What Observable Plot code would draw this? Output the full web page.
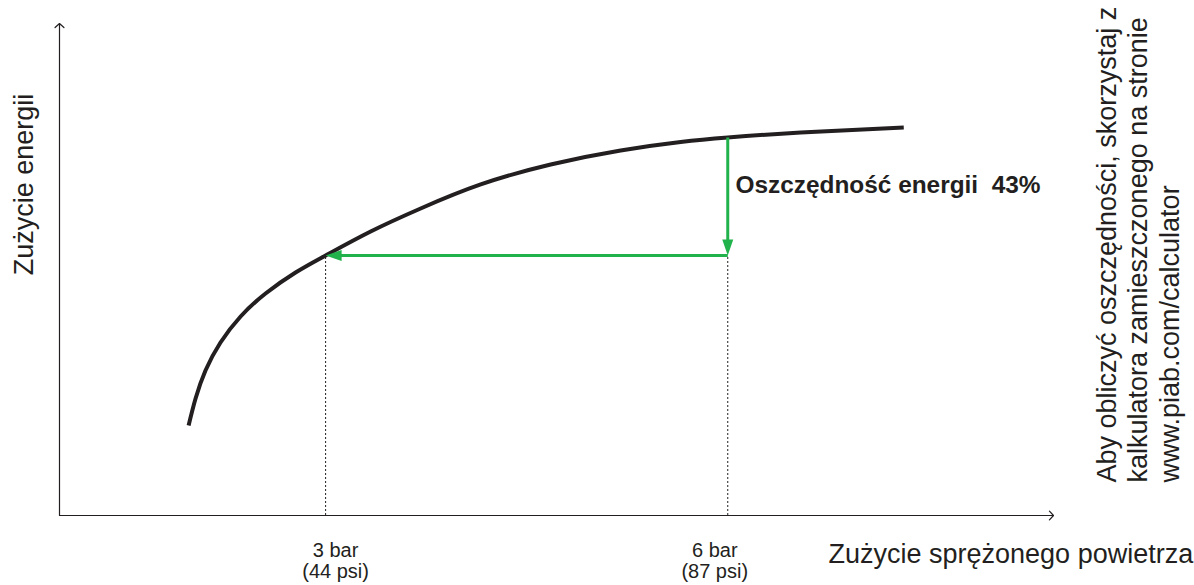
<!DOCTYPE html>
<html>
<head>
<meta charset="utf-8">
<script src="https://cdn.jsdelivr.net/npm/d3@7"></script>
<script src="https://cdn.jsdelivr.net/npm/@observablehq/plot@0.6"></script>
<style>
  html, body { margin: 0; padding: 0; background: #fff; }
</style>
</head>
<body>
<div id="chart"></div>
<script>
// ---- data ----
const pressureDomain = [1.015, 8.43];          // bar, visible x extent
const energyDomain = [0, 100];                  // energy index, visible y extent
const curvePressure = [1.978, 2.030, 2.104, 2.216, 2.366, 2.552, 2.776, 3.0, 3.336, 3.709, 4.157, 4.679, 5.201, 5.649, 6.0, 6.545, 7.313];
const curveEnergy   = [18.29, 23.78, 29.47, 35.16, 40.45, 45.12, 49.39, 52.85, 57.72, 62.40, 67.28, 71.34, 74.19, 75.91, 76.83, 77.85, 78.86];
const pressureTicks = [3, 6];
const tickLabels = ["3 bar\n(44 psi)", "6 bar\n(87 psi)"];
const energyAtTicks = [52.85, 76.83];
const xAxisTitle = "Zużycie sprężonego powietrza";
const yAxisTitle = "Zużycie energii";
const savingsLabel = "Oszczędność energii\u00a0 43%";
const calcNote = ["Aby obliczyć oszczędności, skorzystaj z", "kalkulatora zamieszczonego na stronie", "www.piab.com/calculator"];

// ---- derived tables ----
const curve = curvePressure.map((p, i) => ({p, e: curveEnergy[i]}));
const axes = [
  {x1: pressureDomain[0], y1: energyDomain[0], x2: pressureDomain[1], y2: energyDomain[0]},
  {x1: pressureDomain[0], y1: energyDomain[0], x2: pressureDomain[0], y2: energyDomain[1]}
];
const greenArrows = [
  {x1: pressureTicks[1], y1: energyAtTicks[1], x2: pressureTicks[1], y2: energyAtTicks[0]},
  {x1: pressureTicks[1], y1: energyAtTicks[0], x2: pressureTicks[0], y2: energyAtTicks[0]}
];
const green = "#21b24b";
const ink = "#231f20";
const labelOf = d => tickLabels[pressureTicks.indexOf(d)];

// filled arrow head pointing down, tip at the origin
const headSymbol = {
  draw(ctx) {
    ctx.moveTo(0, 0);
    ctx.lineTo(-5.5, -16);
    ctx.lineTo(5.5, -16);
    ctx.closePath();
  }
};

const chart = Plot.plot({
  width: 1194,
  height: 585,
  marginLeft: 59,
  marginRight: 141,
  marginTop: 23,
  marginBottom: 70,
  style: {fontFamily: "'Liberation Sans', Arial, Helvetica, sans-serif", color: ink, background: "#fff", overflow: "visible"},
  x: {domain: pressureDomain},
  y: {domain: energyDomain, axis: null},
  marks: [
    // dotted guides
    Plot.ruleX(pressureTicks, {x: d => d, y1: energyDomain[0], y2: energyAtTicks[0], stroke: ink, strokeWidth: 1, strokeDasharray: "2,2"}),
    // axes with open arrow heads
    Plot.arrow(axes, {x1: "x1", y1: "y1", x2: "x2", y2: "y2", headAngle: 95, headLength: 7.5, stroke: ink, strokeWidth: 1.2}),
    // curve
    Plot.line(curve, {x: "p", y: "e", curve: "natural", stroke: ink, strokeWidth: 4, strokeLinecap: "butt"}),
    // green arrows
    Plot.arrow(greenArrows, {x1: "x1", y1: "y1", x2: "x2", y2: "y2", headLength: 0, insetEnd: 12, stroke: green, strokeWidth: 3, strokeLinecap: "butt"}),
    Plot.dot(greenArrows, {x: "x2", y: "y2", symbol: headSymbol, fill: green, stroke: "none", r: 5, rotate: d => (d.x2 < d.x1 ? 90 : 0)}),
    // tick labels
    Plot.axisX([pressureTicks[0]], {tickFormat: labelOf, tickSize: 0, tickPadding: 27, fontSize: 20, lineHeight: 1.05, label: null, dx: 10}),
    Plot.axisX([pressureTicks[1]], {tickFormat: labelOf, tickSize: 0, tickPadding: 27, fontSize: 20, lineHeight: 1.05, label: null, dx: -13}),
    // titles
    Plot.text([xAxisTitle], {text: d => d, frameAnchor: "bottom-right", textAnchor: "start", lineAnchor: "bottom", dx: -225, dy: 47, fontSize: 27}),
    Plot.text([yAxisTitle], {text: d => d, frameAnchor: "left", rotate: -90, textAnchor: "middle", lineAnchor: "bottom", dx: -27, dy: -85, fontSize: 27}),
    Plot.text([savingsLabel], {text: d => d, frameAnchor: "top-left", textAnchor: "start", lineAnchor: "bottom", dx: 676, dy: 169, fontSize: 24.4, fontWeight: "bold"}),
    Plot.text([calcNote.join("\n")], {text: d => d, frameAnchor: "bottom-right", rotate: -90, textAnchor: "start", lineAnchor: "bottom", lineHeight: 1.16, dx: 125, dy: -33, fontSize: 27})
  ]
});
document.getElementById("chart").appendChild(chart);
</script>
</body>
</html>
